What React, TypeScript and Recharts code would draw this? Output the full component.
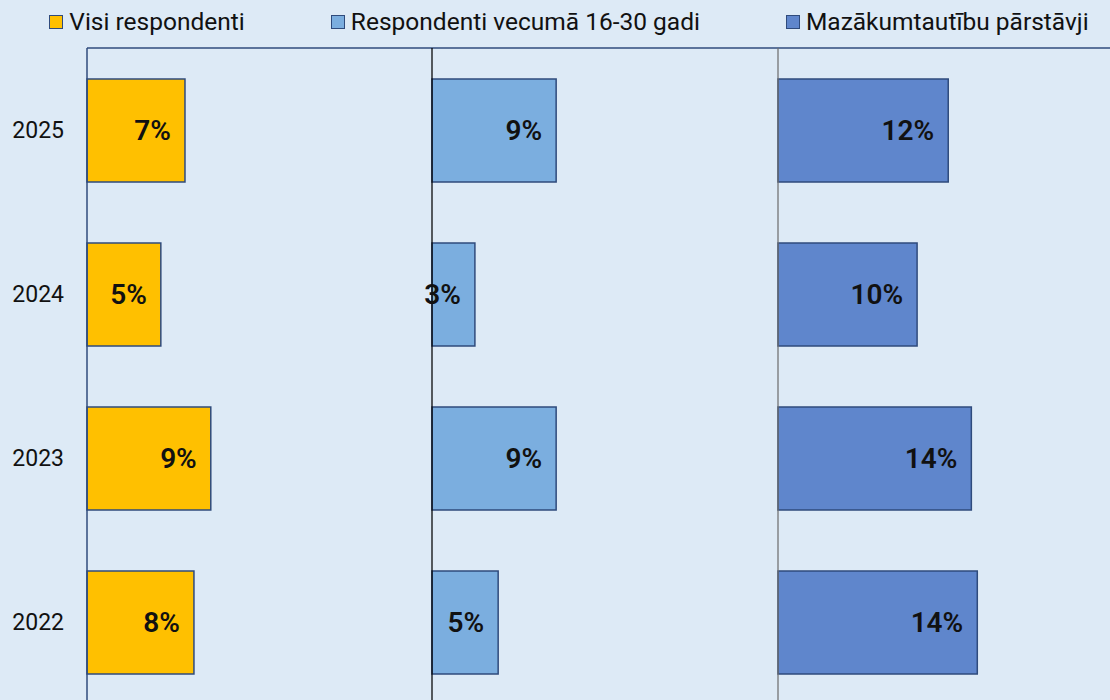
import React from 'react';
import {
  BarChart,
  Bar,
  XAxis,
  YAxis,
  CartesianGrid,
  ReferenceLine,
  LabelList,
} from 'recharts';

const years = ['2025', '2024', '2023', '2022'];
const allRespondents = [7.1, 5.35, 8.97, 7.75];
const youngRespondents = [8.97, 3.1, 8.97, 4.78];
const minorities = [12.3, 10.05, 13.97, 14.4];
const gridTicks = [0, 1, 2, 3, 4];

const rows = years.map((year, i) => ({
  year,
  all: allRespondents[i],
  young: youngRespondents[i],
  minor: minorities[i],
}));

const NAVY = '#2F4B7C';
const BG = '#DDEAF6';
const FONT = 'Roboto, "Noto Sans", sans-serif';

const series = [
  { key: 'all', name: 'Visi respondenti', color: '#FFC000', line: NAVY },
  { key: 'young', name: 'Respondenti vecumā 16-30 gadi', color: '#7BAEDF', line: '#000000' },
  { key: 'minor', name: 'Mazākumtautību pārstāvji', color: '#5F86CC', line: '#6F6F6F' },
];

const pct = (v: any) => `${Math.round(Number(v))}%`;

function Panel({ s, first }: { s: (typeof series)[number]; first: boolean }) {
  return (
    <BarChart
      width={first ? 432 : 346}
      height={720}
      data={rows}
      layout="vertical"
      margin={{ top: 48, right: 0, bottom: 16, left: 0 }}
      style={{ overflow: 'visible' }}
    >
      <CartesianGrid vertical={false} stroke={NAVY} strokeWidth={1.5} />
      <XAxis type="number" domain={[0, 25]} hide />
      <YAxis
        type="number"
        domain={[0, 4]}
        ticks={gridTicks}
        allowDataOverflow
        hide={!first}
        width={8}
        tick={false}
        tickSize={8}
        tickLine={{ stroke: NAVY, strokeWidth: 1.5 }}
        axisLine={{ stroke: NAVY, strokeWidth: 1.5 }}
      />
      <YAxis
        yAxisId="cat"
        type="category"
        dataKey="year"
        hide={!first}
        width={79}
        axisLine={false}
        tickLine={false}
        tickSize={0}
        tickMargin={15}
        tick={{ fill: '#111111', fontSize: 23, fontFamily: FONT }}
      />
      {!first && <ReferenceLine x={0} stroke={s.line} strokeWidth={1.25} />}
      <Bar
        dataKey={s.key}
        yAxisId="cat"
        fill={s.color}
        stroke={NAVY}
        strokeWidth={1.5}
        barSize={103}
        isAnimationActive={false}
      >
        <LabelList
          dataKey={s.key}
          position="insideRight"
          offset={14}
          formatter={pct}
          fill="#111111"
          fontSize={28}
          fontWeight={600}
          fontFamily={FONT}
        />
      </Bar>
    </BarChart>
  );
}

export default function App() {
  return (
    <div
      style={{
        position: 'absolute',
        left: 0,
        top: 0,
        width: 1110,
        height: 700,
        overflow: 'hidden',
        background: BG,
        fontFamily: FONT,
      }}
    >
      <style>{'.recharts-wrapper, .recharts-surface { overflow: visible !important; }'}</style>
      <div
        style={{
          position: 'absolute',
          top: 7,
          left: 0,
          width: 1110,
          paddingLeft: 28,
          boxSizing: 'border-box',
          display: 'flex',
          justifyContent: 'center',
          gap: 86,
          fontSize: 24.5,
          color: '#111111',
          zIndex: 2,
        }}
      >
        {series.map((s) => (
          <div key={s.key} style={{ display: 'flex', alignItems: 'center', gap: 6 }}>
            <span
              style={{
                width: 12,
                height: 12,
                background: s.color,
                border: `1.5px solid ${NAVY}`,
                display: 'inline-block',
              }}
            />
            <span>{s.name}</span>
          </div>
        ))}
      </div>
      <div style={{ position: 'absolute', left: 0, top: 0, display: 'flex' }}>
        {series.map((s, i) => (
          <div key={s.key} style={{ position: 'relative', zIndex: i }}>
            <Panel s={s} first={i === 0} />
          </div>
        ))}
      </div>
    </div>
  );
}
